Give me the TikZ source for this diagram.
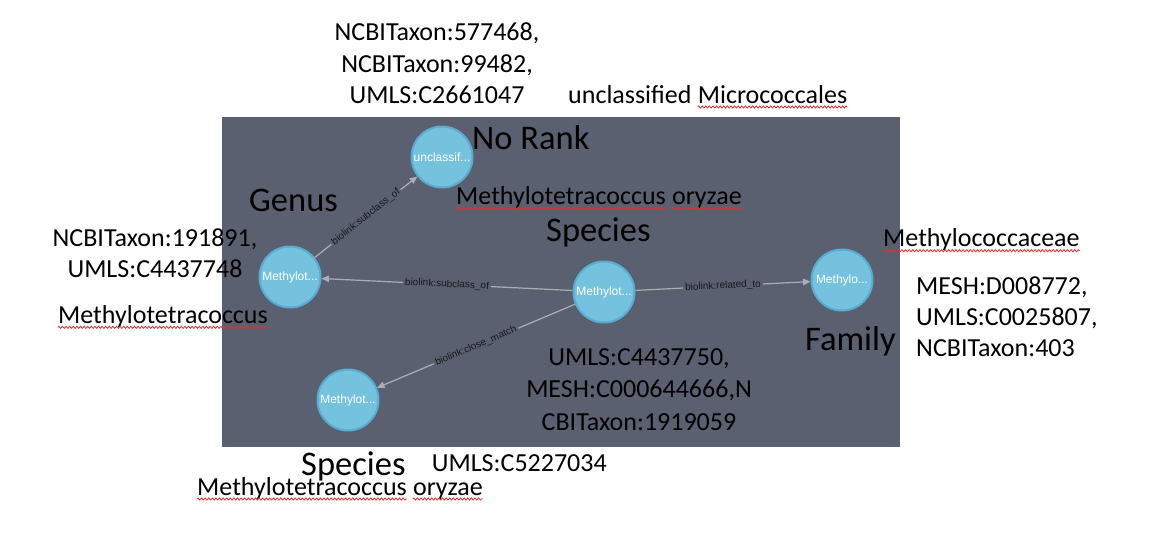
\documentclass[tikz,border=0pt]{standalone}
\usepackage{fontspec}
\setmainfont{Carlito}
\newfontfamily\graphfont{Liberation Sans}
\usepackage{tikz}
\usepackage{xcolor}
\definecolor{panelbg}{RGB}{91,96,112}
\definecolor{nodefill}{RGB}{116,194,222}
\definecolor{nodeline}{RGB}{88,172,210}
\definecolor{edgegray}{RGB}{172,174,182}
\definecolor{edgetext}{RGB}{22,24,30}
\definecolor{spellred}{RGB}{228,48,40}
\usetikzlibrary{arrows.meta,positioning,decorations.pathmorphing}

\begin{document}
\begin{tikzpicture}[x=1pt, y=-1pt,
    entity/.style={circle, minimum size=61pt, inner sep=0pt, fill=nodefill, draw=nodeline, line width=2pt,
                   text=white, font=\graphfont\fontsize{12}{14}\selectfont},
    relation/.style={draw=edgegray, line width=1.2pt, -{Triangle[length=7.5pt, width=6.5pt]}},
    relname/.style={midway, sloped, fill=panelbg, text=edgetext, inner sep=2pt,
                    font=\graphfont\fontsize{10}{12}\selectfont},
    rank/.style={anchor=base west, inner sep=0pt, font=\fontsize{34.5}{40}\selectfont},
    idtext/.style={inner sep=0pt, font=\fontsize{26}{31.3}\selectfont},
    taxname/.style={anchor=base west, inner sep=0pt, font=\fontsize{26}{31.5}\selectfont},
    spell/.style={draw=spellred, line width=0.8pt, decorate,
                  decoration={zigzag, segment length=3.6pt, amplitude=1.1pt}}]
    \useasboundingbox (0,0) rectangle (1150,536);
    % 图谱背景面板
    \fill[panelbg] (222,117) rectangle (900,447);
    % 实体节点
    \node[entity] (nUncl) at (442,157) {unclassif...};
    \node[entity] (nGenus) at (290,277) {Methylot...};
    \node[entity] (nSpecies) at (604,292) {Methylot...};
    \node[entity] (nFamily) at (842,280) {Methylo...};
    \node[entity] (nClose) at (348,400) {Methylot...};
    % 关系连线
    \draw[relation] (nGenus) -- (nUncl) node[relname] {biolink:subclass\_of};
    \draw[relation] (nSpecies) -- (nGenus) node[relname] {biolink:subclass\_of};
    \draw[relation] (nSpecies) -- (nFamily) node[relname] {biolink:related\_to};
    \draw[relation] (nSpecies) -- (nClose) node[relname] {biolink:close\_match};
    % 分类等级
    \node[rank] (rkUncl) at (472,149.3) {No Rank};
    \node[rank] (rkGenus) at (249,211.7) {Genus};
    \node[rank] (rkSpecies) at (546,241.7) {Species};
    \node[rank] (rkFamily) at (805,350) {Family};
    \node[rank] (rkClose) at (301,475) {Species};
    % 标识符(anchor=base 取最后一行基线)
    \node[idtext, anchor=base, align=center] (idUncl) at (437,103.3)
        {NCBITaxon:577468,\\NCBITaxon:99482,\\UMLS:C2661047};
    \node[idtext, anchor=base, align=center] (idGenus) at (155,277.3)
        {NCBITaxon:191891,\\UMLS:C4437748};
    \node[idtext, anchor=base west, align=left, font=\fontsize{26}{31}\selectfont] (idFamily) at (916,356.7)
        {MESH:D008772,\\UMLS:C0025807,\\NCBITaxon:403};
    \node[idtext, anchor=base, align=center, font=\fontsize{26}{32.5}\selectfont] (idSpecies) at (639,430)
        {UMLS:C4437750,\\MESH:C000644666,N\\CBITaxon:1919059};
    \node[idtext, anchor=base west] (idClose) at (431.7,471.7) {UMLS:C5227034};
    % 名称(带拼写波浪线)
    \node[taxname] (nmUnclA) at (568,103) {unclassified};
    \node[taxname, base right=5.9pt of nmUnclA] (nmUnclB) {Micrococcales};
    \node[taxname] (nmSpeciesA) at (456,204.3) {Methylotetracoccus};
    \node[taxname, base right=5.9pt of nmSpeciesA] (nmSpeciesB) {oryzae};
    \node[taxname] (nmGenus) at (58,323.3) {Methylotetracoccus};
    \node[taxname] (nmFamily) at (883,246.7) {Methylococcaceae};
    \node[taxname] (nmCloseA) at (197,495) {Methylotetracoccus};
    \node[taxname, base right=5.9pt of nmCloseA] (nmCloseB) {oryzae};
    \foreach \nm in {nmUnclB,nmSpeciesA,nmSpeciesB,nmGenus,nmFamily,nmCloseA,nmCloseB}
        \draw[spell] ([yshift=-4pt]\nm.base west) -- ([yshift=-4pt]\nm.base east);
\end{tikzpicture}
\end{document}
